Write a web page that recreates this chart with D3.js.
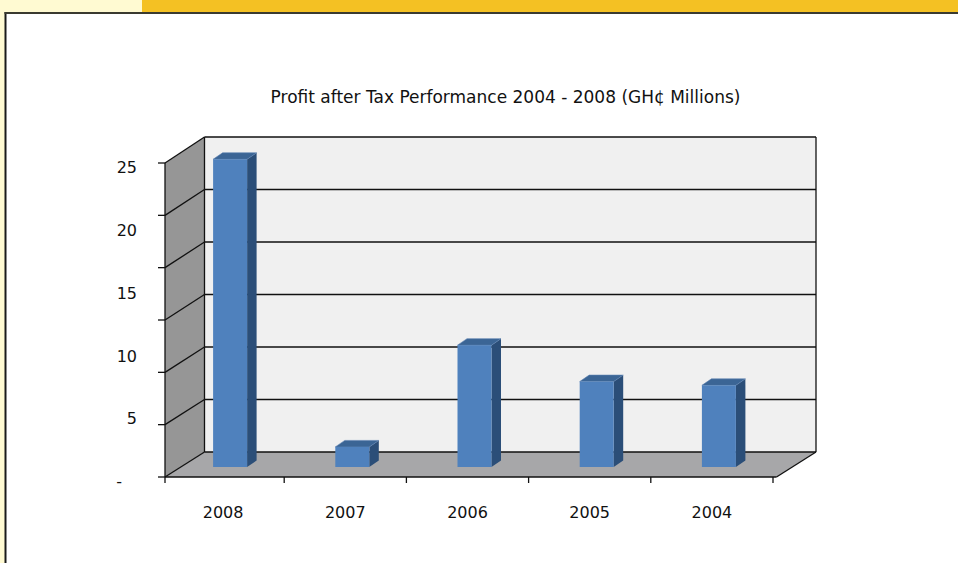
<!DOCTYPE html>
<html><head><meta charset="utf-8">
<script src="https://cdn.jsdelivr.net/npm/d3@7"></script>
<style>body{margin:0;background:#fff;}svg{display:block;font-family:"DejaVu Sans",sans-serif;}</style>
</head><body>
<svg id="c" width="958" height="563"></svg>
<script>
const categories = ["2008","2007","2006","2005","2004"];
const values = [24.5, 1.6, 9.7, 6.8, 6.5];
const yTickLabels = ["25","20","15","10","5","-"];
const yLabelValues = [25,20,15,10,5,0];
const title = "Profit after Tax Performance 2004 - 2008 (GH\u00a2 Millions)";

const svg = d3.select("#c");
// page decoration
svg.append("rect").attr("x",0).attr("y",0).attr("width",958).attr("height",563).attr("fill","#fff");
svg.append("rect").attr("x",0).attr("y",0).attr("width",142).attr("height",12).attr("fill","#FFFAD2");
svg.append("rect").attr("x",142).attr("y",0).attr("width",816).attr("height",12).attr("fill","#F4C123");
svg.append("rect").attr("x",0).attr("y",12).attr("width",5).attr("height",551).attr("fill","#FFFAD2");
svg.append("line").attr("x1",5.5).attr("x2",5.5).attr("y1",12).attr("y2",563).attr("stroke","#1a1a1a").attr("stroke-width",2);
svg.append("line").attr("x1",4.5).attr("x2",958).attr("y1",13).attr("y2",13).attr("stroke","#3a3a30").attr("stroke-width",1.8);

// geometry
const front = {x0:165, x1:776.5};
const depth = {dx:39.5, dy:-25};
const yFront = d3.scaleLinear().domain([0,25]).range([477,163]);
const yBack = d3.scaleLinear().domain([0,25]).range([477+depth.dy, 163+depth.dy-1]);
const yBar = d3.scaleLinear().domain([0,25]).range([467, 467-314]);
const x = d3.scaleBand().domain(categories).range([162,773]);
const gridVals = d3.range(7).map(i => i*25/6);

const g = svg.append("g");
const bx0 = front.x0+depth.dx, bx1 = front.x1+depth.dx;
// back wall
g.append("rect").attr("x",bx0).attr("y",yBack(25)).attr("width",bx1-bx0).attr("height",yBack(0)-yBack(25))
 .attr("fill","#F0F0F0");
// left wall
g.append("polygon").attr("points",[[front.x0,yFront(25)],[bx0,yBack(25)],[bx0,yBack(0)],[front.x0,yFront(0)]].join(" "))
 .attr("fill","#969696");
// floor
g.append("polygon").attr("points",[[front.x0,yFront(0)],[bx0,yBack(0)],[bx1,yBack(0)],[front.x1,yFront(0)]].join(" "))
 .attr("fill","#A7A7A9");
// gridlines on back wall and left wall
gridVals.forEach(v=>{
  g.append("line").attr("x1",bx0).attr("x2",bx1).attr("y1",yBack(v)).attr("y2",yBack(v)).attr("stroke","#111").attr("stroke-width",1.3);
  g.append("line").attr("x1",front.x0).attr("x2",bx0).attr("y1",yFront(v)).attr("y2",yBack(v)).attr("stroke","#111").attr("stroke-width",1.3);
  g.append("line").attr("x1",158).attr("x2",front.x0).attr("y1",yFront(v)).attr("y2",yFront(v)).attr("stroke","#111").attr("stroke-width",1.3);
});
// wall edges
g.append("line").attr("x1",bx0).attr("x2",bx0).attr("y1",yBack(25)).attr("y2",yBack(0)).attr("stroke","#111").attr("stroke-width",1.3);
g.append("line").attr("x1",bx1).attr("x2",bx1).attr("y1",yBack(25)).attr("y2",yBack(0)).attr("stroke","#111").attr("stroke-width",1.3);
g.append("line").attr("x1",front.x0).attr("x2",front.x0).attr("y1",yFront(25)).attr("y2",yFront(0)+6).attr("stroke","#111").attr("stroke-width",1.3);
g.append("line").attr("x1",front.x0).attr("x2",front.x1).attr("y1",yFront(0)).attr("y2",yFront(0)).attr("stroke","#111").attr("stroke-width",1.3);
g.append("line").attr("x1",front.x1).attr("x2",bx1).attr("y1",yFront(0)).attr("y2",yBack(0)).attr("stroke","#111").attr("stroke-width",1.3);
// x ticks
categories.forEach(c=>{
  const tx = x(c)+x.step();
  g.append("line").attr("x1",tx).attr("x2",tx).attr("y1",yFront(0)).attr("y2",yFront(0)+6).attr("stroke","#111").attr("stroke-width",1.3);
});

// bars
const bw = 34, bdx = 9.5, bdy = -6.5, bOff = 7;
categories.forEach((c,i)=>{
  const cx = x(c)+x.bandwidth()/2+bOff;
  const l = cx-bw/2, r = cx+bw/2, t = yBar(values[i]), b = yBar(0);
  g.append("polygon").attr("points",[[r,t],[r+bdx,t+bdy],[r+bdx,b+bdy],[r,b]].join(" ")).attr("fill","#2B4E78");
  g.append("polygon").attr("points",[[l,t],[l+bdx,t+bdy],[r+bdx,t+bdy],[r,t]].join(" ")).attr("fill","#3B6595").attr("stroke","#5a80b0").attr("stroke-width",0.6);
  g.append("rect").attr("x",l).attr("y",t).attr("width",bw).attr("height",b-t).attr("fill","#4F81BD");
});

// y labels
yLabelValues.forEach((v,i)=>{
  svg.append("text").attr("x",v===0?122:137).attr("y",yFront(v)+4.5).attr("dy","0.35em").attr("text-anchor","end")
   .attr("font-size",16).attr("fill","#111").text(yTickLabels[i]);
});
// x labels
categories.forEach(c=>{
  svg.append("text").attr("x",x(c)+x.bandwidth()/2).attr("y",512.5).attr("dy","0.35em").attr("text-anchor","middle")
   .attr("font-size",16).attr("fill","#111").text(c);
});
// title
svg.append("text").attr("x",505.5).attr("y",103).attr("text-anchor","middle").attr("font-size",17).attr("fill","#111").text(title);
</script>
</body></html>
